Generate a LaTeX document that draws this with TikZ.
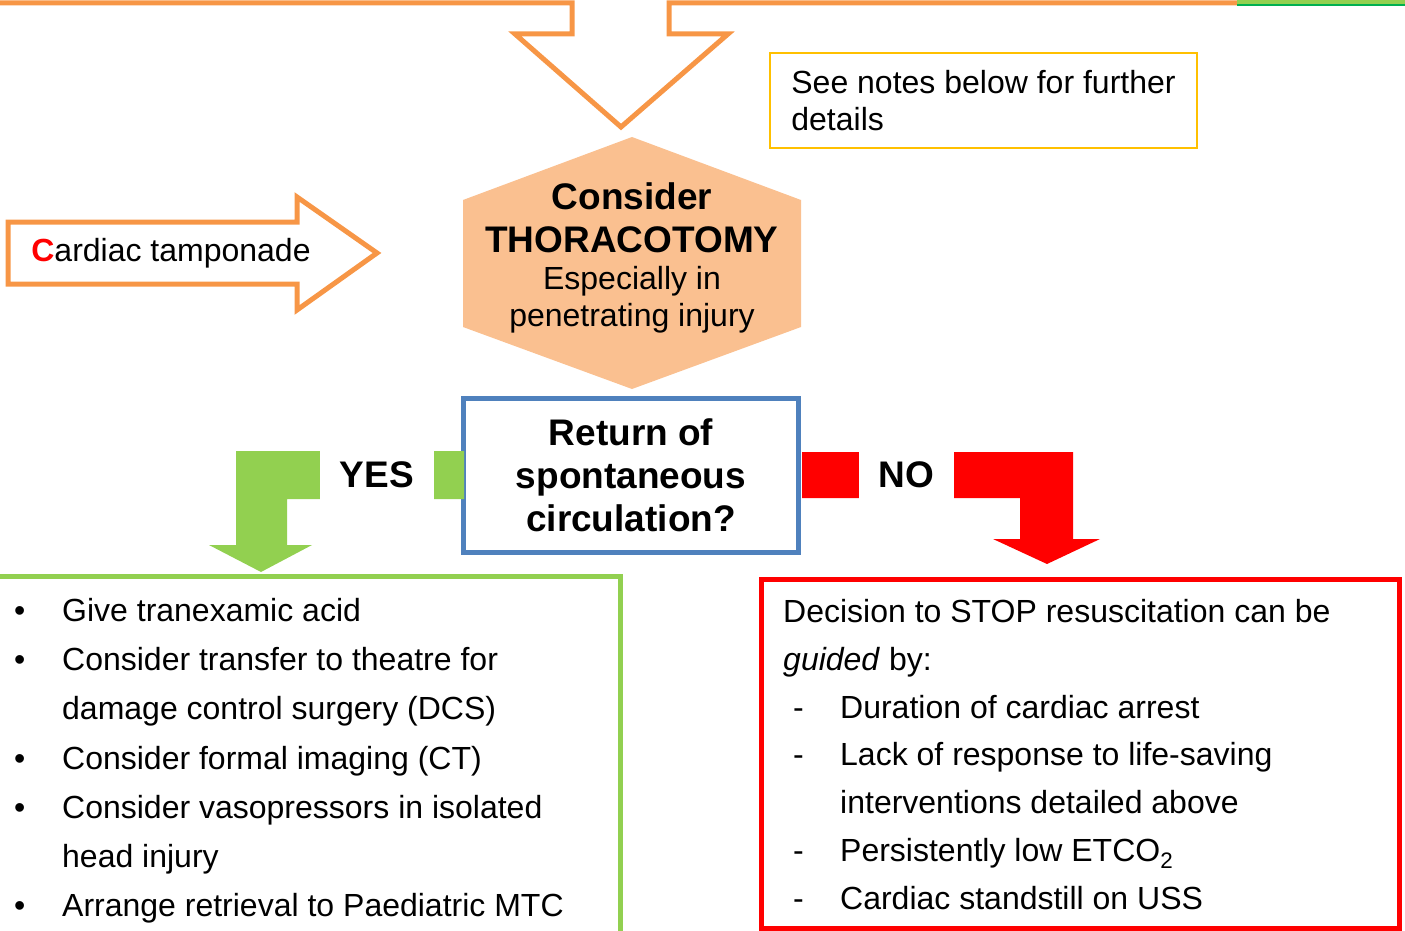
\documentclass[tikz,border=0pt]{standalone}
\usepackage{fontspec}
\setmainfont{Liberation Sans}
\usepackage{xcolor}
\usetikzlibrary{calc}
\usetikzlibrary{positioning}

\definecolor{orangeln}{HTML}{F79646}
\definecolor{hexorange}{HTML}{FAC090}
\definecolor{yesgreen}{HTML}{92D050}
\definecolor{darkgreen}{HTML}{00B050}
\definecolor{roscblue}{HTML}{4F81BD}
\definecolor{noteyellow}{HTML}{FFC000}

\newcommand{\yesitem}{\makebox[48pt][l]{\textbullet}}
\newcommand{\yesindent}{\hspace*{48pt}}
\newcommand{\noitem}{\hspace*{10pt}\makebox[47pt][l]{-}}

\begin{document}
\begin{tikzpicture}[x=1pt,y=-1pt,line join=miter]
 \tikzstyle{txt}=[inner sep=0pt, font=\fontsize{32}{37}\selectfont]
 \tikzstyle{bold}=[inner sep=0pt, font=\bfseries\fontsize{37}{43}\selectfont]
 \tikzstyle{label}=[bold, fill=white, minimum height=52]
 \tikzstyle{box}=[line width=5pt]
 \clip (0,0) rectangle (1405,931);

 % arrow coming in from the part above
 \draw[orangeln, box] (-5,3) -- (572,3) -- (572,34) -- (515,34) -- (621,127)
      -- (728,34) -- (669,34) -- (669,3) -- (1237,3);
 \draw[yesgreen, line width=4pt] (1237,2) -- (1410,2);
 \draw[darkgreen, line width=2pt] (1237,5) -- (1410,5);

 \node[txt, draw=noteyellow, line width=2pt, align=left, minimum width=427,
       minimum height=95, anchor=north west] (notes) at (769,52)
       {See notes below for further\\details};

 % tamponade arrow
 \draw[orangeln, box] (8,222) -- (297,222) -- (297,197) -- (377,253) -- (297,310)
      -- (297,284) -- (8,284) -- cycle;
 \node[txt, anchor=base] (tamponade) at (171,261) {{\color{red}\bfseries C}ardiac tamponade};

 % thoracotomy
 \fill[hexorange] (632,137) -- (801,200) -- (801,327) -- (632,389) -- (463,327)
      -- (463,200) -- cycle;
 \node[bold, align=center, anchor=base] (thoracotomy) at (632,252) {Consider\\THORACOTOMY};
 \node[txt, align=center, below=14pt of thoracotomy] (penetrating) {Especially in\\penetrating injury};

 \node[bold, draw=roscblue, box, align=center, minimum width=335, minimum height=154]
      (rosc) at (631,475) {Return of\\spontaneous\\circulation?};

 % yes / no
 \fill[yesgreen] (464,451) -- (236,451) -- (236,545) -- (209,545) -- (261,572)
      -- (312,545) -- (287,545) -- (287,499) -- (464,499) -- cycle;
 \node[label, minimum width=114] (yes) at (377,475) {YES};
 \fill[red] (802,452) -- (1073,452) -- (1073,539) -- (1100,539) -- (1047,564)
      -- (993,539) -- (1020,539) -- (1020,498) -- (802,498) -- cycle;
 \node[label, minimum width=95] (no) at (906.5,475) {NO};

 \draw[yesgreen, box] (-10,576.5) rectangle (620.5,945);
 \node[txt, align=left, anchor=base west, font=\fontsize{32}{49.2}\selectfont]
      (yeslist) at (14,916.7) {\yesitem Give tranexamic acid\\
      \yesitem Consider transfer to theatre for\\
      \yesindent damage control surgery (DCS)\\
      \yesitem Consider formal imaging (CT)\\
      \yesitem Consider vasopressors in isolated\\
      \yesindent head injury\\
      \yesitem Arrange retrieval to Paediatric MTC};

 \draw[red, box] (761,579.5) rectangle (1399,928);
 \node[txt, align=left, anchor=base west, font=\fontsize{32}{47.8}\selectfont]
      (nolist) at (783,909.3) {Decision to STOP resuscitation can be\\
      \textit{guided} by:\\
      \noitem Duration of cardiac arrest\\
      \noitem Lack of response to life-saving\\
      \hspace*{57pt}interventions detailed above\\
      \noitem Persistently low ETCO\textsubscript{2}\\
      \noitem Cardiac standstill on USS};
\end{tikzpicture}
\end{document}
